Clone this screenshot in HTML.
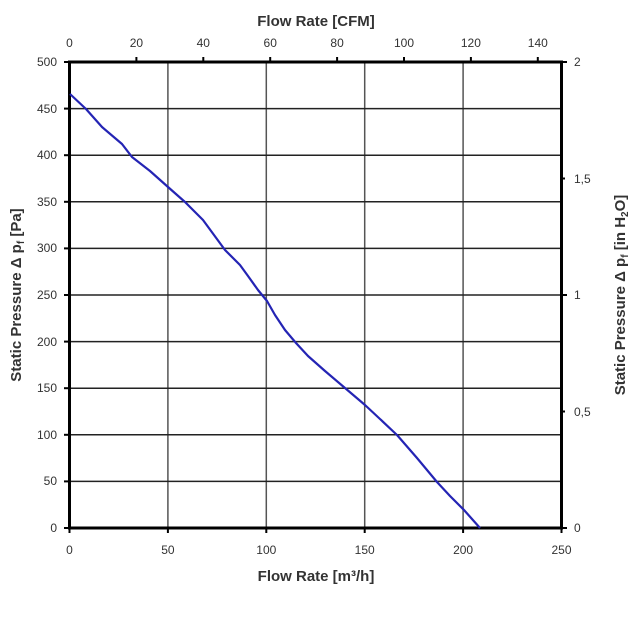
<!DOCTYPE html>
<html><head><style>
body{margin:0;background:#fff;}
svg text{font-family:"Liberation Sans",Arial,sans-serif;fill:#333;}
</style></head><body>
<svg width="633" height="614" viewBox="0 0 633 614">
<g stroke="#555" stroke-width="1.5">
<line x1="167.9" y1="62" x2="167.9" y2="528"/>
<line x1="266.3" y1="62" x2="266.3" y2="528"/>
<line x1="364.7" y1="62" x2="364.7" y2="528"/>
<line x1="463.1" y1="62" x2="463.1" y2="528"/>
</g>
<g stroke="#222" stroke-width="1.5">
<line x1="69.5" y1="108.6" x2="561.5" y2="108.6"/>
<line x1="69.5" y1="155.2" x2="561.5" y2="155.2"/>
<line x1="69.5" y1="201.8" x2="561.5" y2="201.8"/>
<line x1="69.5" y1="248.4" x2="561.5" y2="248.4"/>
<line x1="69.5" y1="295" x2="561.5" y2="295"/>
<line x1="69.5" y1="341.6" x2="561.5" y2="341.6"/>
<line x1="69.5" y1="388.2" x2="561.5" y2="388.2"/>
<line x1="69.5" y1="434.8" x2="561.5" y2="434.8"/>
<line x1="69.5" y1="481.4" x2="561.5" y2="481.4"/>
</g>
<g stroke="#000" stroke-width="3">
<rect x="69.5" y="62" width="492" height="466" fill="none"/>
</g>
<g stroke="#000" stroke-width="2">
<line x1="64" y1="62" x2="69" y2="62"/><line x1="64" y1="108.6" x2="69" y2="108.6"/><line x1="64" y1="155.2" x2="69" y2="155.2"/><line x1="64" y1="201.8" x2="69" y2="201.8"/><line x1="64" y1="248.4" x2="69" y2="248.4"/><line x1="64" y1="295" x2="69" y2="295"/><line x1="64" y1="341.6" x2="69" y2="341.6"/><line x1="64" y1="388.2" x2="69" y2="388.2"/><line x1="64" y1="434.8" x2="69" y2="434.8"/><line x1="64" y1="481.4" x2="69" y2="481.4"/><line x1="64" y1="528" x2="69" y2="528"/>
<line x1="562" y1="62" x2="567" y2="62"/><line x1="562" y1="295" x2="567" y2="295"/><line x1="562" y1="528" x2="567" y2="528"/>
<line x1="562" y1="178.5" x2="565" y2="178.5"/><line x1="562" y1="411.5" x2="565" y2="411.5"/>
<line x1="69.5" y1="528" x2="69.5" y2="533"/><line x1="167.9" y1="528" x2="167.9" y2="533"/><line x1="266.3" y1="528" x2="266.3" y2="533"/><line x1="364.7" y1="528" x2="364.7" y2="533"/><line x1="463.1" y1="528" x2="463.1" y2="533"/><line x1="561.5" y1="528" x2="561.5" y2="533"/>
<line x1="136.4" y1="57" x2="136.4" y2="62"/><line x1="203.3" y1="57" x2="203.3" y2="62"/><line x1="270.2" y1="57" x2="270.2" y2="62"/><line x1="337.1" y1="57" x2="337.1" y2="62"/><line x1="404" y1="57" x2="404" y2="62"/><line x1="470.9" y1="57" x2="470.9" y2="62"/><line x1="537.8" y1="57" x2="537.8" y2="62"/>
</g>
<polyline fill="none" stroke="#2424b4" stroke-width="2.2" stroke-linejoin="round" points="70,94 86,109 102,127 122,144 132,157 150,171 168,187 185,202 203,220 225,250 240,265 248,276 258,290 267,301 275,315 285,330 296,343 308,356 325,371 345,388 365,405 380,419 397,435 417,458 437,482 450,496 464,510 480,528"/>
<g font-size="12" text-anchor="end">
<text x="57" y="66">500</text><text x="57" y="113">450</text><text x="57" y="159">400</text><text x="57" y="206">350</text><text x="57" y="252">300</text><text x="57" y="299">250</text><text x="57" y="346">200</text><text x="57" y="392">150</text><text x="57" y="439">100</text><text x="57" y="485">50</text><text x="57" y="532">0</text>
</g>
<g font-size="12" text-anchor="start">
<text x="574" y="66">2</text><text x="574" y="183">1,5</text><text x="574" y="299">1</text><text x="574" y="416">0,5</text><text x="574" y="532">0</text>
</g>
<g font-size="12" text-anchor="middle">
<text x="69.5" y="554">0</text><text x="167.9" y="554">50</text><text x="266.3" y="554">100</text><text x="364.7" y="554">150</text><text x="463.1" y="554">200</text><text x="561.5" y="554">250</text>
<text x="69.5" y="47">0</text><text x="136.4" y="47">20</text><text x="203.3" y="47">40</text><text x="270.2" y="47">60</text><text x="337.1" y="47">80</text><text x="404" y="47">100</text><text x="470.9" y="47">120</text><text x="537.8" y="47">140</text>
</g>
<g font-size="15" font-weight="bold" text-anchor="middle" style="fill:#222">
<text x="316" y="26">Flow Rate [CFM]</text>
<text x="316" y="581">Flow Rate [m³/h]</text>
<text transform="translate(21,295) rotate(-90)">Static Pressure Δ p<tspan font-size="10" dy="3">f</tspan><tspan dy="-3"> [Pa]</tspan></text>
<text transform="translate(625,295) rotate(-90)">Static Pressure Δ p<tspan font-size="10" dy="3">f</tspan><tspan dy="-3"> [in H</tspan><tspan font-size="10" dy="3">2</tspan><tspan dy="-3">O]</tspan></text>
</g>
</svg>
</body></html>
